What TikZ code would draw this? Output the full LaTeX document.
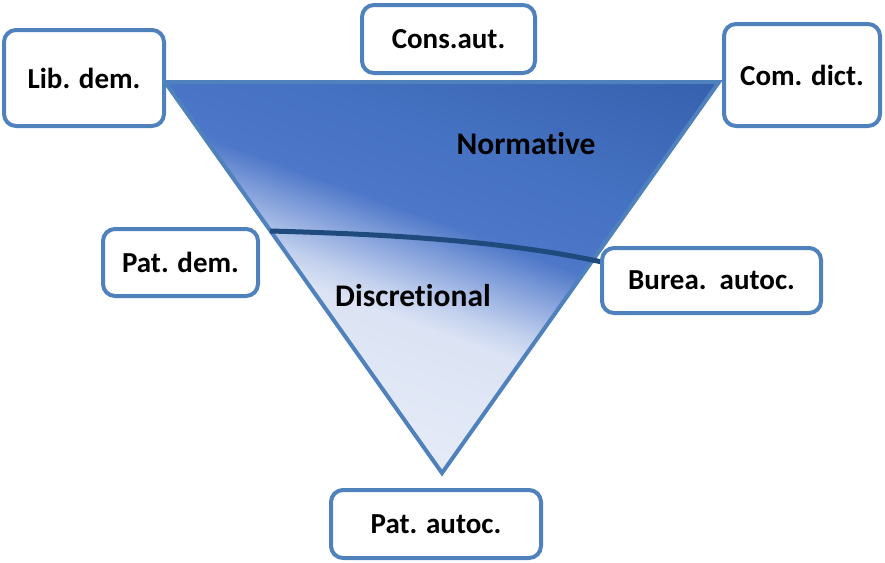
\documentclass[tikz,border=0pt]{standalone}
\usepackage{fontspec}
\setmainfont{Carlito}[Ligatures={NoCommon}]

% palette
\definecolor{edgeblue}{HTML}{4F81BD}
\definecolor{seam}{HTML}{1F4A7D}
\definecolor{palebot}{HTML}{EDF1F9}
\definecolor{palemid}{HTML}{E6EBF7}
\definecolor{paletop}{HTML}{DBE3F4}
\definecolor{paleedge}{HTML}{C3D1EE}
\definecolor{midblue}{HTML}{8AA5DD}
\definecolor{blueA}{HTML}{4D77C8}
\definecolor{blueB}{HTML}{4672C3}
\definecolor{blueC}{HTML}{3560AD}
\definecolor{blueD}{HTML}{2C57A3}

% light band at the bottom, blue band at the top, soft seam between them
\pgfdeclareverticalshading{fadefill}{100bp}{%
  color(0bp)=(palebot); color(25bp)=(palebot); color(37.5bp)=(palemid);
  color(46bp)=(paletop); color(47.5bp)=(paleedge); color(50bp)=(midblue);
  color(52.5bp)=(blueA); color(57.5bp)=(blueB); color(66.9bp)=(blueC);
  color(75bp)=(blueD); color(100bp)=(blueD)}

\tikzset{
  boxfont/.style={font=\bfseries\fontsize{29}{35}\selectfont},
  zonefont/.style={font=\bfseries\fontsize{31.5}{38}\selectfont},
  tagbox/.style={draw=edgeblue, line width=4pt, fill=white,
    rounded corners=12pt, inner sep=0pt, boxfont},
  zonelabel/.style={inner sep=0pt, zonefont},
  rim/.style={draw=edgeblue, line width=4pt, line join=miter},
  seamline/.style={draw=seam, line width=5pt},
}

\begin{document}
\begin{tikzpicture}[x=1pt, y=1pt]
  \useasboundingbox (0,0) rectangle (885,-562);

  % corners of the inverted triangle
  \coordinate (tl) at (165,-82);
  \coordinate (tr) at (719,-82);
  \coordinate (bt) at (442,-473);

  % shaded body of the triangle
  \begin{scope}
    \clip (tl) -- (tr) -- (bt) -- cycle;
    \begin{scope}[transform canvas={rotate around={-20:(395,-248)}}]
      \shade[shading=fadefill] (-105,-648) rectangle (895,152);
    \end{scope}
  \end{scope}

  % outline
  \path[rim] (tl) -- (tr) -- (bt) -- cycle;

  % dividing curve between the two zones
  \coordinate (sl) at (270,-231);
  \coordinate (sr) at (602,-262);
  \path[seamline] (sl) .. controls (380,-234) and (500,-240) .. (sr);

  % zone labels
  \node[zonelabel] (norm) at (526,-144) {Normative};
  \node[zonelabel] (disc) at (413,-296) {Discretional};

  % surrounding labels
  \node[tagbox, minimum width=160, minimum height=96] (lib) at (84,-78) {Lib. dem.};
  \node[tagbox, minimum width=173, minimum height=68] (cons) at (448.5,-39) {Cons.aut.};
  \node[tagbox, minimum width=156, minimum height=102] (com) at (802,-75) {Com. dict.};
  \node[tagbox, minimum width=155, minimum height=67] (patd) at (180.5,-262.5) {Pat. dem.};
  \node[tagbox, minimum width=219, minimum height=65] (bur) at (711.5,-280.5) {Burea.\ \ autoc.};
  \node[tagbox, minimum width=210, minimum height=68] (pata) at (436,-524) {Pat. autoc.};
\end{tikzpicture}
\end{document}
